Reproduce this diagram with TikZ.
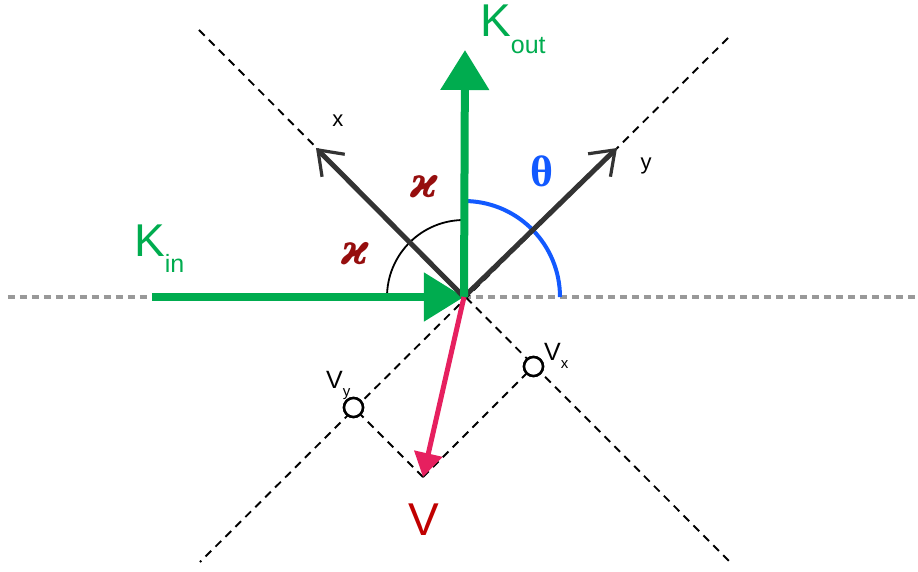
\documentclass[tikz,border=0pt]{standalone}
\usepackage{fontspec}
\setmainfont{Liberation Sans}
\newfontfamily\kappafont{DejaVu Serif}
\newfontfamily\thetafont{Liberation Serif}
\usetikzlibrary{arrows.meta}
\definecolor{kgreen}{HTML}{00AC4F}
\definecolor{vpink}{HTML}{E6205F}
\definecolor{thblue}{HTML}{1259FF}
\definecolor{kapred}{HTML}{960E0E}
\definecolor{vred}{HTML}{C00000}
\definecolor{dashgray}{HTML}{999999}
\definecolor{axisgray}{HTML}{333333}
\newcommand{\fs}[1]{\fontsize{#1}{#1}\selectfont}
\tikzset{
  hline/.style={draw=dashgray,line width=3.5pt,dash pattern=on 7pt off 5pt},
  diag/.style={draw=black,line width=1.9pt,dash pattern=on 8pt off 6pt},
  axisarr/.style={draw=axisgray,line width=5pt,-{Straight Barb[length=22pt,width=32pt,line width=3.2pt]}},
  kvec/.style={draw=kgreen,line width=8pt,-{Triangle[length=40pt,width=47pt]}},
  vvec/.style={draw=vpink,line width=5pt,-{Triangle[length=24pt,width=28pt]}},
  probe/.style={circle,draw=black,line width=2.5pt,fill=white,minimum size=19pt,inner sep=0pt},
  ktext/.style={text=kgreen,font=\fs{46},inner sep=0pt,anchor=base west},
  comptext/.style={text=black,font=\fs{25},inner sep=0pt,anchor=base west},
  axtext/.style={text=black,font=\fs{22},inner sep=0pt},
  kaptext/.style={text=kapred,font=\kappafont\bfseries\itshape\fs{42},inner sep=0pt},
}

\begin{document}
\begin{tikzpicture}[x=1pt,y=1pt]
  \useasboundingbox (-464,-274) rectangle (454,297);
  \coordinate (O) at (0,0);
  % guide lines
  \coordinate (hl) at (-456,0);
  \coordinate (hr) at (454,0);
  \coordinate (dtl) at (-265,267);
  \coordinate (dbr) at (265,-264);
  \coordinate (dtr) at (264,259);
  \coordinate (dbl) at (-264,-265);
  \draw[hline] (hl) -- (hr);
  \draw[diag] (dtl) -- (dbr);
  \draw[diag] (dtr) -- (dbl);

  % components of V
  \coordinate (vtip) at (-41,-180);
  \node[probe] (vx) at (69.5,-69.5) {};
  \node[probe] (vy) at (-110.5,-110.5) {};
  \draw[diag] (vtip) -- (vx);
  \draw[diag] (vtip) -- (vy);

  % angles
  \draw[black,line width=1.8pt] (O) ++(177:77) arc[start angle=177,end angle=91,radius=77];
  \draw[thblue,line width=4pt] (O) ++(0:96) arc[start angle=0,end angle=88,radius=96];

  % vectors
  \coordinate (kinstart) at (-312,0);
  \coordinate (kouttip) at (1,247);
  \coordinate (xtip) at (-148,149);
  \coordinate (ytip) at (153,149);
  \draw[kvec] (kinstart) -- (O);
  \draw[axisarr] (O) -- (xtip);
  \draw[axisarr] (O) -- (ytip);
  \draw[kvec] (O) -- (kouttip);
  \draw[vvec] (O) -- (vtip);
  \node[probe] at (vx) {};
  \node[probe] at (vy) {};

  % labels
  \node[ktext] (kin) at (-330,41) {K\raisebox{-16pt}{\fs{25}in}};
  \node[ktext] (kout) at (16,260) {K\raisebox{-16pt}{\fs{25}out}};
  \node[axtext] (xlab) at (-126,176) {x};
  \node[axtext] (ylab) at (182,131) {y};
  \node[text=thblue,font=\thetafont\bfseries\fs{44},inner sep=0pt] (th) at (78,126) {θ};
  \node[kaptext] (kap1) at (-40,110) {ϰ};
  \node[kaptext] (kap2) at (-109,43) {ϰ};
  \node[comptext] (vxlab) at (80,-63) {V\raisebox{-8pt}{\fs{15}x}};
  \node[comptext] (vylab) at (-138,-91) {V\raisebox{-8pt}{\fs{15}y}};
  \node[text=vred,font=\fs{46},inner sep=0pt,anchor=base] (vlab) at (-40,-238) {V};
\end{tikzpicture}
\end{document}
